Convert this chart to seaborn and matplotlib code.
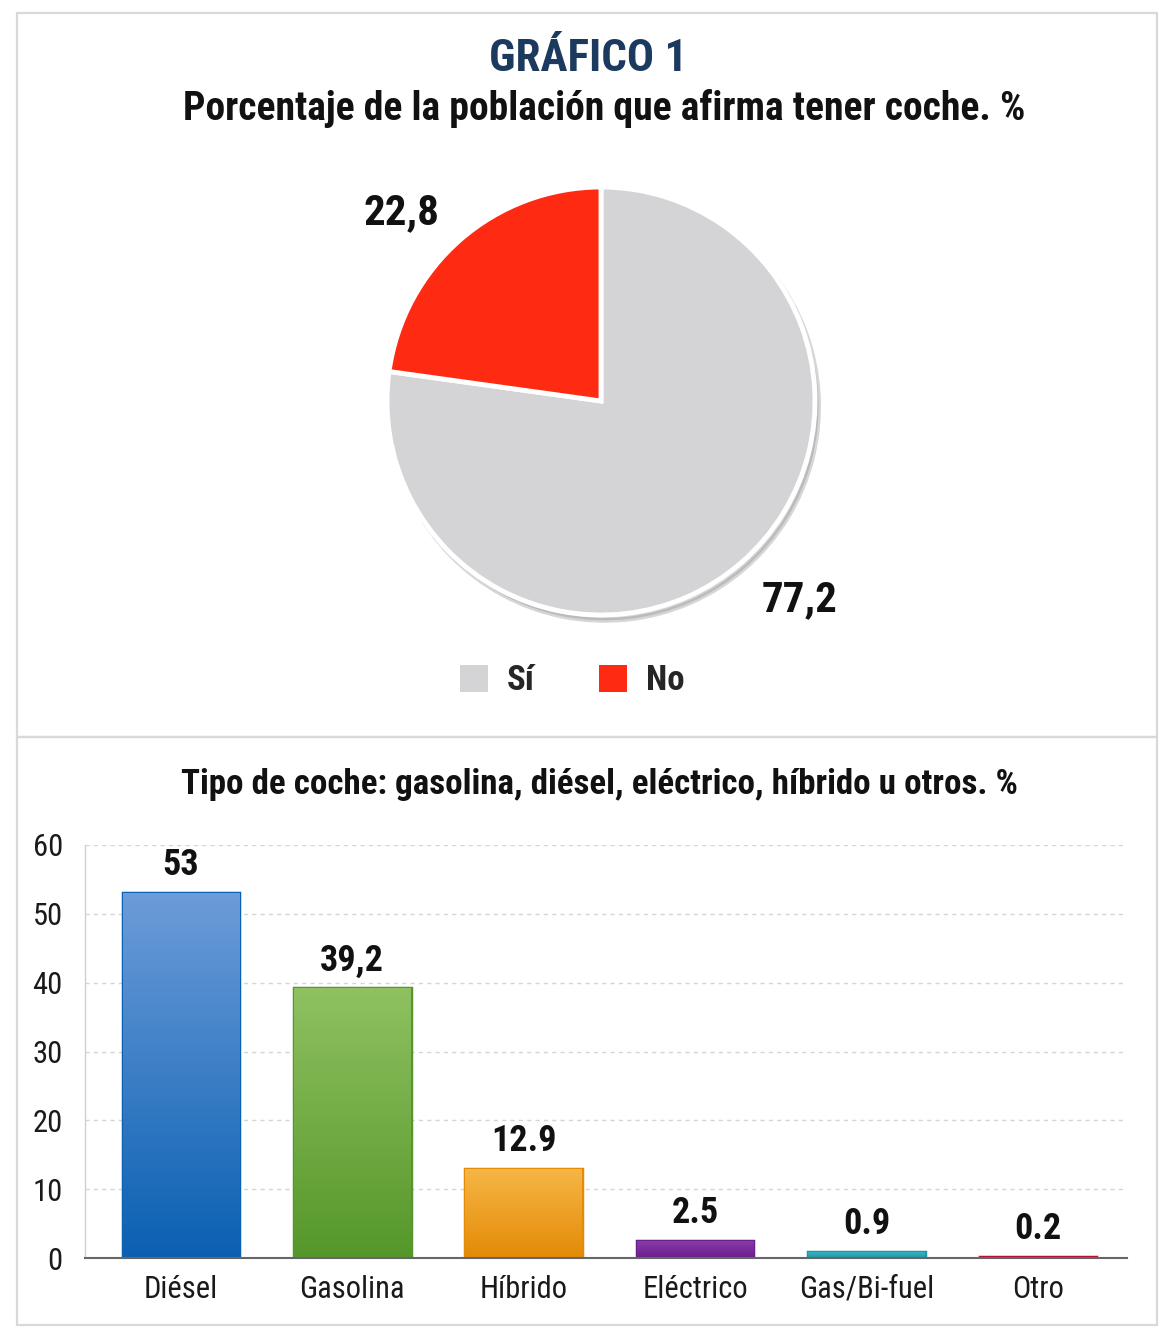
import numpy as np
import pandas as pd
import matplotlib
matplotlib.use("Agg")
import matplotlib.pyplot as plt
import matplotlib.patches as mpatches
from matplotlib import font_manager
from matplotlib.colors import to_rgb
import seaborn as sns

# ---------------- data ----------------
pie_labels = ["Sí", "No"]
pie_values = [77.2, 22.8]
pie_value_text = ["77,2", "22,8"]

bar_categories = ["Diésel", "Gasolina", "Híbrido", "Eléctrico", "Gas/Bi-fuel", "Otro"]
bar_values = [53, 39.2, 12.9, 2.5, 0.9, 0.2]
bar_value_text = ["53", "39,2", "12.9", "2.5", "0.9", "0.2"]
y_ticks = [0, 10, 20, 30, 40, 50, 60]

title_main = "GRÁFICO 1"
title_pie = "Porcentaje de la población que afirma tener coche. %"
title_bar = "Tipo de coche: gasolina, diésel, eléctrico, híbrido u otros. %"

# ---------------- style ----------------
pie_colors = ["#d4d4d6", "#ff2a12"]
bar_top_colors = ["#6c9cd9", "#8fc160", "#f7b646", "#8a3ca8", "#3cb9c4", "#d42a50"]
bar_bot_colors = ["#0a60b2", "#55972a", "#e38a06", "#6a1e8c", "#1e98a6", "#b8102f"]

sns.set_theme(style="white")
installed = {f.name for f in font_manager.fontManager.ttflist}
cands = ["Roboto Condensed", "Liberation Sans Narrow", "Open Sans Condensed",
         "Noto Sans Condensed", "Roboto", "Liberation Sans", "DejaVu Sans"]
fam = [c for c in cands if c in installed]
plt.rcParams["font.family"] = fam + ["DejaVu Sans"]

W, H = 1174, 1340
fig = plt.figure(figsize=(W / 100, H / 100), dpi=100)
fig.patch.set_facecolor("white")

def fx(x):
    return x / W

def fy(y):
    return 1 - y / H

# panel frames
for (x0, y0, x1, y1) in [(17, 13, 1157, 737), (17, 737, 1157, 1325)]:
    fig.add_artist(mpatches.Rectangle((fx(x0), fy(y1)), fx(x1) - fx(x0), fy(y0) - fy(y1),
                                      transform=fig.transFigure, fill=False,
                                      edgecolor="#d9d9d9", linewidth=1.6))

fig.text(fx(588), fy(59), title_main, ha="center", va="center", fontsize=32.5,
         fontweight="bold", color="#1b3a5e")
fig.text(fx(604), fy(109), title_pie, ha="center", va="center", fontsize=28.5,
         fontweight="bold", color="#111111")
fig.text(fx(599), fy(784), title_bar, ha="center", va="center", fontsize=25.2,
         fontweight="bold", color="#111111")

# ---------------- pie ----------------
cx, cy, r = 601, 401, 214
axp = fig.add_axes([fx(cx - r), fy(cy + r), 2 * r / W, 2 * r / H])
wedges, texts = axp.pie(pie_values, colors=pie_colors, labels=pie_value_text,
                        labeldistance=1.31, counterclock=True,
                        startangle=90 + 360 * pie_values[1] / 100,
                        wedgeprops=dict(edgecolor="white", linewidth=3.5),
                        shadow=dict(ox=0.012, oy=-0.018, shade=0.35, alpha=0.35),
                        textprops=dict(fontsize=31, fontweight="bold", color="#111111"))
axp.set_xlim(-1, 1)
axp.set_ylim(-1, 1)
axp.set_aspect("equal")
axp.axis("off")
label_pos = [(0.93, -0.93), (-0.93, 0.88)]
for t, pos in zip(texts, label_pos):
    t.set_ha("center")
    t.set_va("center")
    t.set_position(pos)

handles = [mpatches.Patch(facecolor=c, edgecolor="none") for c in pie_colors]
fig.legend(handles, pie_labels, loc="center", bbox_to_anchor=(fx(572), fy(681)),
           ncol=2, frameon=False, handlelength=0.8, handleheight=0.8,
           handletextpad=0.55, columnspacing=1.85,
           prop=dict(size=25, weight="bold"))

# ---------------- bars ----------------
bx0, bx1, by0, by1 = 85, 1127, 845, 1258
axb = fig.add_axes([fx(bx0), fy(by1), (bx1 - bx0) / W, (by1 - by0) / H])
df = pd.DataFrame({"cat": bar_categories, "val": bar_values})
sns.barplot(data=df, x="cat", y="val", hue="cat", palette=bar_bot_colors,
            legend=False, width=0.68, ax=axb, saturation=1)

bars = [b for cont in axb.containers for b in cont]
for i, p in enumerate(bars):
    x0, w, h = p.get_x(), p.get_width(), p.get_height()
    c1, c2 = np.array(to_rgb(bar_top_colors[i])), np.array(to_rgb(bar_bot_colors[i]))
    t = np.linspace(0, 1, 256)[:, None]
    grad = (c1[None, :] * (1 - t) + c2[None, :] * t)[:, None, :]
    im = axb.imshow(grad, extent=[x0, x0 + w, 0, h], aspect="auto", origin="upper",
                    zorder=p.get_zorder() + 0.1)
    im.set_clip_path(p)
    p.set_edgecolor(bar_bot_colors[i])
    p.set_linewidth(2.5)

for cont, lab in zip(axb.containers, bar_value_text):
    axb.bar_label(cont, labels=[lab], padding=7, fontsize=26,
                  fontweight="bold", color="#111111")

axb.set_xlim(-0.56, 5.52)
axb.set_ylim(0, 60)
axb.set_yticks(y_ticks)
axb.yaxis.grid(True, linestyle=(0, (3, 3)), color="#d5d5d5", linewidth=1)
axb.set_axisbelow(True)
axb.set_xlabel("")
axb.set_ylabel("")
axb.tick_params(axis="both", length=0, labelsize=22, colors="#1a1a1a")
axb.tick_params(axis="x", pad=12)
axb.tick_params(axis="y", pad=16)
for s in ["top", "right"]:
    axb.spines[s].set_visible(False)
axb.spines["left"].set_color("#d0d0d0")
axb.spines["left"].set_linewidth(1)
axb.spines["bottom"].set_color("#666666")
axb.spines["bottom"].set_linewidth(1.5)
axb.spines["bottom"].set_zorder(5)
axb.set_facecolor("white")

fig.savefig("out.png", dpi=100, facecolor="white")
